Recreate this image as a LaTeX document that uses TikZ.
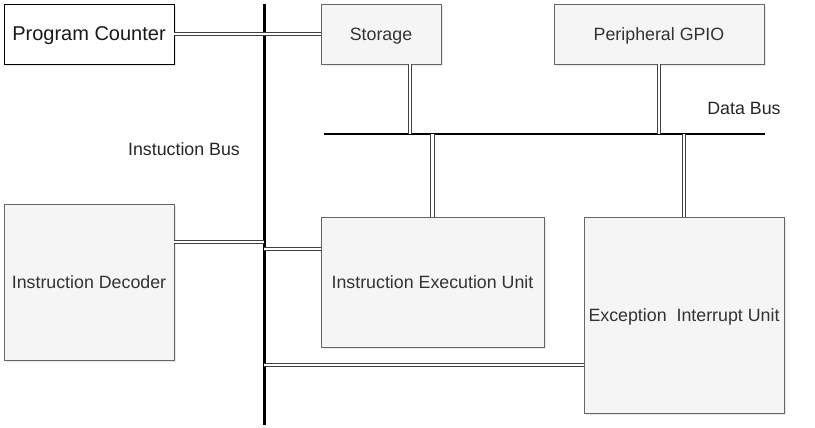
\documentclass[tikz,border=0pt]{standalone}
\usepackage{fontspec}
\setmainfont{Liberation Sans}
\usepackage{tikz}
\usetikzlibrary{positioning,calc,shadows}
\definecolor{boxfill}{HTML}{F5F5F5}
\definecolor{boxline}{HTML}{666666}
\definecolor{txt}{HTML}{333333}

\begin{document}
\begin{tikzpicture}[x=1pt,y=-1pt,
		unitbox/.style={draw=boxline,fill=boxfill,line width=0.9pt,text=txt,
			inner sep=0pt,align=center,text depth=0pt,
			drop shadow={opacity=0.18,shadow xshift=2pt,shadow yshift=-2pt}},
		link/.style={draw=black!75,double=white,double distance=2.6pt,line width=0.8pt},
		buslbl/.style={text=black!85,text depth=0pt}]
		%\draw (0,0) grid[step=50] (815,428);
		\useasboundingbox (0,0) rectangle (815,428);
		\fontsize{17.8}{21}\selectfont
		% blocks
		\node[unitbox,draw=black,fill=white,text=black!90,minimum width=170,minimum height=60,
			font=\fontsize{20}{24}\selectfont] (pc) at (89,34) {Program Counter};
		\node[unitbox,minimum width=120,minimum height=60] (storage) at (381,34) {Storage};
		\node[unitbox,minimum width=210,minimum height=60] (gpio) at (659,34) {Peripheral GPIO};
		\node[unitbox,minimum width=170,minimum height=156] (decoder) at (89,282) {Instruction Decoder};
		\node[unitbox,minimum width=223,minimum height=130] (exec) at (432.5,282) {Instruction Execution Unit};
		\node[unitbox,minimum width=200,minimum height=196] (except) at (684,315) {Exception\ \ Interrupt Unit};
		% buses
		\coordinate (ibtop) at (264,4);
		\coordinate (ibbot) at (264,425);
		\coordinate (dbleft) at (324,134);
		\coordinate (dbright) at (765,134);
		\draw[black,line width=3pt] (ibtop) -- (ibbot);
		\draw[black,line width=2pt] (dbleft) -- (dbright);
		\node[buslbl] (dblabel) at (744,108) {Data Bus};
		\node[buslbl] (iblabel) at (184,149) {Instuction Bus};
		% taps on the buses
		\coordinate (dbstore) at (410,134);
		\coordinate (ibdec) at (264,242);
		\coordinate (ibexec) at (264,249);
		\coordinate (ibexc) at (264,365);
		\draw[link] (pc.east) -- (storage.west);
		\draw[link] (dbstore |- storage.south) -- (dbstore);
		\draw[link] (gpio.south) -- (gpio.south |- dbleft);
		\draw[link] (exec.north) -- (exec.north |- dbleft);
		\draw[link] (except.north) -- (except.north |- dbleft);
		\draw[link] (ibdec -| decoder.east) -- (ibdec);
		\draw[link] (ibexec) -- (ibexec -| exec.west);
		\draw[link] (ibexc) -- (ibexc -| except.west);
	\end{tikzpicture}
\end{document}
